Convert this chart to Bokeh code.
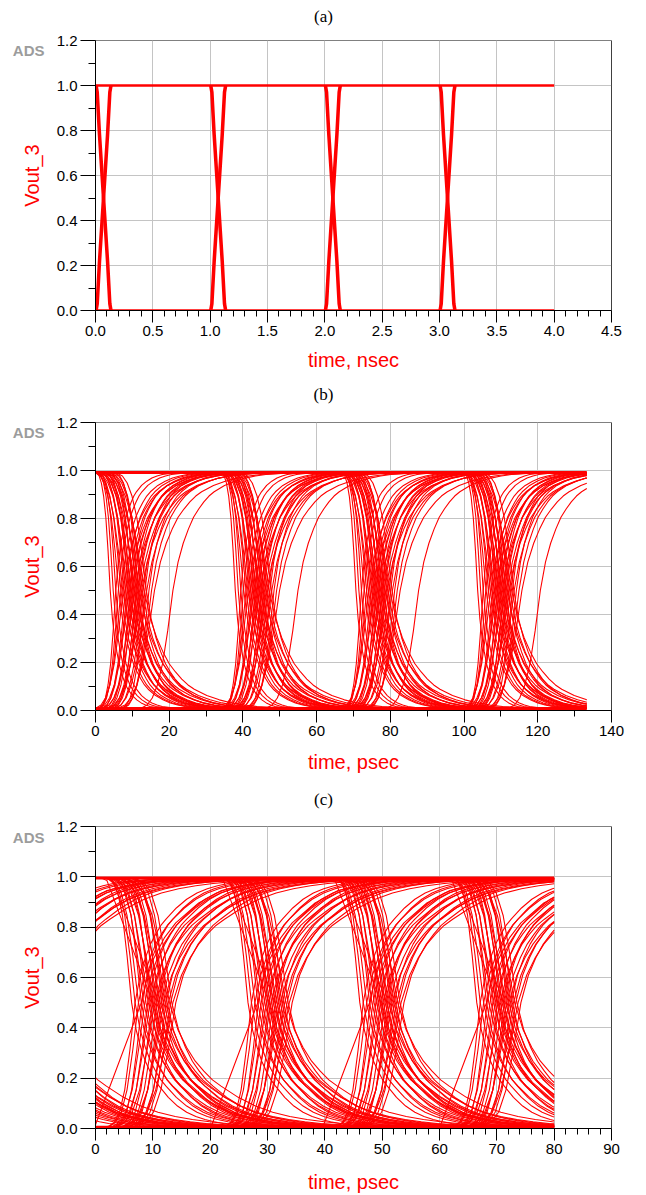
import numpy as np
from bokeh.plotting import figure
from bokeh.layouts import column
from bokeh.models import (FixedTicker, Span, Range1d, PrintfTickFormatter, LinearAxis,
                          CustomJSTickFormatter)
from bokeh.embed import file_html
from bokeh.resources import INLINE

RED = "#ff0000"

Y_TICKS = [0.0, 0.2, 0.4, 0.6, 0.8, 1.0, 1.2]
Y_MINOR = [0.1, 0.3, 0.5, 0.7, 0.9, 1.1]
LOGO_TEXT = "ADS"
LOGO_Y = 1.157

# ---------------- panel (a) data : time in ns ----------------
A_CAPTION = "(a)"
A_XTICKS = [0.0, 0.5, 1.0, 1.5, 2.0, 2.5, 3.0, 3.5, 4.0, 4.5]
A_EDGES = [0.0, 1.0, 2.0, 3.0]              # start of each transition
A_JITTER = [0.0, 0.01]                      # small spread of edge start
A_END = 4.0
A_TPL_T = [0.0, 0.01, 0.03, 0.065, 0.10, 0.12, 0.13]  # edge profile (ns after start)
A_TPL_V = [0.0, 0.03, 0.22, 0.5, 0.78, 0.97, 1.0]     # normalised level
A_RAILS = [0.0, 1.0]

# ---------------- panel (b) data : time in ps ----------------
B_CAPTION = "(b)"
B_XTICKS = [0, 20, 40, 60, 80, 100, 120, 140]
B_PERIOD = 33.33
B_NPER = 4
B_END = 133.3
B_PERIOD_SHIFT = [0.0, 0.6, 0.0, -0.3]
B_TPL_T = [-7, -6, -5, -4, -3, -2, -1, 0, 1, 2, 3, 4, 5, 6, 7, 8, 10, 12, 14, 16, 18, 21, 26]
B_TPL_V = [0.0, 0.004, 0.015, 0.045, 0.10, 0.19, 0.33, 0.5, 0.62, 0.70, 0.76, 0.81,
           0.845, 0.875, 0.90, 0.918, 0.945, 0.963, 0.976, 0.985, 0.991, 0.996, 1.0]
B_FALL_CROSS = [4.0, 4.8, 5.5, 6.3, 6.9, 7.4, 7.8, 8.2, 8.6, 8.9, 9.2, 9.5, 9.8, 10.1,
                10.4, 10.7, 11.0, 11.3, 11.6, 11.9, 12.3, 12.7, 13.2, 13.8]
B_FALL_SCALE = [0.6, 0.65, 0.7, 1.0, 1.0, 1.2, 1.0, 1.1, 1.3, 1.0, 1.2, 1.1, 1.4, 1.0,
                1.2, 1.5, 1.1, 1.3, 1.0, 1.6, 1.2, 1.4, 1.7, 1.3]
B_RISE_CROSS = [5.5, 6.2, 6.9, 7.5, 8.1, 8.6, 9.0, 9.4, 9.8, 10.2, 10.6, 11.0, 11.3,
                11.7, 12.1, 12.5, 12.9, 13.4, 13.9, 14.5, 15.2, 16.0, 21.0]
B_RISE_SCALE = [0.7, 0.8, 1.0, 1.2, 1.0, 1.1, 1.3, 1.0, 1.2, 1.1, 1.4, 1.0, 1.2, 1.1,
                1.3, 1.5, 1.2, 1.0, 1.4, 1.1, 1.3, 1.6, 1.4]
B_RAILS = [0.008, 0.992]

# ---------------- panel (c) data : time in ps ----------------
C_CAPTION = "(c)"
C_XTICKS = [0, 10, 20, 30, 40, 50, 60, 70, 80, 90]
C_PERIOD = 20.0
C_NPER = 5           # includes the period before t=0 (tails visible at start)
C_FIRST = -1
C_END = 80.0
C_PERIOD_SHIFT = [0.5, 0.5, 0.8, 0.3, 0.7, 0.5]
C_TPL_T = [-6, -5, -4, -3, -2, -1, 0, 1, 2, 3, 4, 5, 6, 8, 10, 12, 14, 16, 18, 20, 24, 28, 34]
C_TPL_V = [0.0, 0.005, 0.02, 0.06, 0.15, 0.31, 0.5, 0.61, 0.68, 0.735, 0.775, 0.81, 0.835,
           0.88, 0.915, 0.94, 0.957, 0.969, 0.978, 0.985, 0.993, 0.997, 1.0]
C_RAMP_T = [-9, -8, 0, 1, 2, 4, 6, 10, 14, 20, 28]
C_RAMP_V = [0.0, 0.01, 0.5, 0.6, 0.67, 0.76, 0.82, 0.9, 0.95, 0.98, 1.0]
C_FALL_CROSS = [5.8, 6.4, 7.0, 7.5, 7.9, 8.3, 8.7, 9.0, 9.3, 9.6, 9.9, 10.2, 10.5, 10.8,
                11.1, 11.4, 11.7, 12.0, 12.4, 12.8]
C_FALL_SCALE = [0.8, 0.9, 1.0, 0.9, 1.1, 1.0, 1.2, 0.9, 1.1, 1.3, 1.0, 1.2, 1.1, 1.4,
                1.0, 1.2, 1.3, 1.1, 1.5, 1.2]
C_RISE_CROSS = [6.4, 7.0, 7.6, 8.1, 8.6, 9.0, 9.4, 9.8, 10.2, 10.6, 11.0, 11.4, 11.8,
                12.2, 12.6, 13.0, 13.5]
C_RISE_SCALE = [0.9, 1.0, 0.9, 1.1, 1.0, 1.2, 1.0, 1.3, 1.1, 1.0, 1.2, 1.4, 1.1, 1.3,
                1.2, 1.5, 1.3]
C_RAMP_FALL_CROSS = [9.5, 10.5]
C_RAMP_RISE_CROSS = [7.5]
C_RAILS = [0.005, 0.995]

FRAME_LEFT, FRAME_RIGHT, PAGE_CENTER = 95, 611, 323


def clip(x, y, x0, x1):
    x = np.asarray(x, float)
    y = np.asarray(y, float)
    if x[-1] <= x0 or x[0] >= x1:
        return None
    a = max(x0, x[0])
    b = min(x1, x[-1])
    inner = (x > a) & (x < b)
    xs = [a] + list(x[inner]) + [b]
    ys = [float(np.interp(a, x, y))] + list(y[inner]) + [float(np.interp(b, x, y))]
    return xs, ys


def edge(t_cross, scale, tpl_t, tpl_v, rising, lo, hi, x0, x1):
    x = t_cross + np.asarray(tpl_t, float) * scale
    v = np.asarray(tpl_v, float)
    if not rising:
        v = 1.0 - v
    y = lo + (hi - lo) * v
    return clip(x, y, x0, x1)


def style(p, caption, cap_standoff, xticks, n_minor, x_fmt, x_label, xlab_standoff):
    p.title.visible = False
    step = xticks[1] - xticks[0]
    minor = [xticks[0] + step * i / n_minor for i in range(1, n_minor * (len(xticks) - 1))
             if i % n_minor]
    xt = FixedTicker(ticks=xticks, minor_ticks=minor)
    yt = FixedTicker(ticks=Y_TICKS, minor_ticks=Y_MINOR)
    p.xaxis.ticker = xt
    p.yaxis.ticker = yt
    p.xgrid.ticker = xt
    p.ygrid.ticker = yt
    p.xaxis.formatter = PrintfTickFormatter(format=x_fmt)
    p.yaxis.formatter = PrintfTickFormatter(format="%.1f")
    for ax in (p.xaxis[0], p.yaxis[0]):
        ax.axis_line_color = "black"
        ax.axis_line_width = 1
        ax.major_tick_line_color = "black"
        ax.minor_tick_line_color = "black"
        ax.major_tick_in = 0
        ax.minor_tick_in = 0
        ax.major_label_text_font = "Liberation Sans"
        ax.major_label_text_font_size = "15px"
        ax.major_label_text_color = "black"
        ax.axis_label_text_font = "Liberation Sans"
        ax.axis_label_text_font_size = "20px"
        ax.axis_label_text_font_style = "normal"
        ax.axis_label_text_color = RED
    p.xaxis.major_tick_out = 12
    p.xaxis.minor_tick_out = 6
    p.yaxis.major_tick_out = 15
    p.yaxis.minor_tick_out = 7
    p.xaxis.major_label_standoff = 3
    p.yaxis.major_label_standoff = 3
    p.xaxis.axis_label = x_label
    p.yaxis.axis_label = "Vout_3"
    p.xaxis.axis_label_standoff = xlab_standoff
    p.yaxis.axis_label_standoff = 11
    p.grid.grid_line_color = "#c4c4c4"
    p.grid.grid_line_width = 1
    p.outline_line_color = "#808080"
    p.background_fill_color = "white"
    p.border_fill_color = "white"
    p.add_layout(Span(location=xticks[-1], dimension="height", line_color="black", line_width=1))
    # "ADS" logo: an outer, line-less axis carrying one label
    logo = LinearAxis(ticker=FixedTicker(ticks=[LOGO_Y], minor_ticks=[]),
                      formatter=CustomJSTickFormatter(code="return '%s';" % LOGO_TEXT),
                      axis_line_color=None, major_tick_line_color=None,
                      minor_tick_line_color=None, major_tick_out=0, major_tick_in=0,
                      major_label_standoff=-27,
                      major_label_text_font="Liberation Sans",
                      major_label_text_font_style="bold",
                      major_label_text_font_size="15px",
                      major_label_text_color="#9c9c9c")
    p.add_layout(logo, "left")
    # caption "(a)/(b)/(c)": a line-less axis above, centred on the page
    cap_x = xticks[-1] * (PAGE_CENTER - FRAME_LEFT) / (FRAME_RIGHT - FRAME_LEFT)
    cap = LinearAxis(ticker=FixedTicker(ticks=[cap_x], minor_ticks=[]),
                     formatter=CustomJSTickFormatter(code="return '%s';" % caption),
                     axis_line_color=None, major_tick_line_color=None,
                     minor_tick_line_color=None, major_tick_out=0, major_tick_in=0,
                     major_label_standoff=cap_standoff,
                     major_label_text_font="Liberation Serif",
                     major_label_text_font_size="17px",
                     major_label_text_color="black")
    p.add_layout(cap, "above")


def new_fig(x_end, top, bottom, height):
    return figure(width=640, height=height, x_range=Range1d(0, x_end), y_range=Range1d(0, 1.2),
                  output_backend="svg", toolbar_location=None,
                  min_border_left=FRAME_LEFT, min_border_right=640 - FRAME_RIGHT,
                  min_border_top=top, min_border_bottom=bottom)


# ---------------- (a) ----------------
pa = new_fig(A_XTICKS[-1], 40, 70, 380)
style(pa, A_CAPTION, 15, A_XTICKS, 5, "%.1f", "time, nsec", 10)
xs, ys = [], []
for k in A_EDGES:
    for j in A_JITTER:
        for rising in (True, False):
            r = edge(k + j, 1.0, A_TPL_T, A_TPL_V, rising, 0.0, 1.0, 0.0, A_END)
            if r:
                xs.append(r[0]); ys.append(r[1])
pa.multi_line(xs, ys, line_color=RED, line_width=2.4)
for lvl in A_RAILS:
    pa.line([0.0, A_END], [lvl, lvl], line_color=RED, line_width=2.4)

# ---------------- (b) ----------------
pb = new_fig(B_XTICKS[-1], 42, 74, 404)
style(pb, B_CAPTION, 19, B_XTICKS, 2, "%d", "time, psec", 12)
xs, ys = [], []
for k in range(B_NPER):
    base = k * B_PERIOD + B_PERIOD_SHIFT[k]
    for c, s in zip(B_FALL_CROSS, B_FALL_SCALE):
        r = edge(base + c, s, B_TPL_T, B_TPL_V, False, B_RAILS[0], B_RAILS[1], 0.0, B_END)
        if r:
            xs.append(r[0]); ys.append(r[1])
    for c, s in zip(B_RISE_CROSS, B_RISE_SCALE):
        r = edge(base + c, s, B_TPL_T, B_TPL_V, True, B_RAILS[0], B_RAILS[1], 0.0, B_END)
        if r:
            xs.append(r[0]); ys.append(r[1])
pb.multi_line(xs, ys, line_color=RED, line_width=1.1)
for lvl in B_RAILS:
    pb.line([0.0, B_END], [lvl, lvl], line_color=RED, line_width=3)

# ---------------- (c) ----------------
pc = new_fig(C_XTICKS[-1], 42, 66, 411)
style(pc, C_CAPTION, 18, C_XTICKS, 5, "%d", "time, psec", 14)
xs, ys = [], []
for i in range(C_NPER):
    k = C_FIRST + i
    base = k * C_PERIOD + C_PERIOD_SHIFT[i]
    for c, s in zip(C_FALL_CROSS, C_FALL_SCALE):
        r = edge(base + c, s, C_TPL_T, C_TPL_V, False, C_RAILS[0], C_RAILS[1], 0.0, C_END)
        if r:
            xs.append(r[0]); ys.append(r[1])
    for c, s in zip(C_RISE_CROSS, C_RISE_SCALE):
        r = edge(base + c, s, C_TPL_T, C_TPL_V, True, C_RAILS[0], C_RAILS[1], 0.0, C_END)
        if r:
            xs.append(r[0]); ys.append(r[1])
    for c in C_RAMP_FALL_CROSS:
        r = edge(base + c, 1.0, C_RAMP_T, C_RAMP_V, False, C_RAILS[0], C_RAILS[1], 0.0, C_END)
        if r:
            xs.append(r[0]); ys.append(r[1])
    for c in C_RAMP_RISE_CROSS:
        r = edge(base + c, 1.0, C_RAMP_T, C_RAMP_V, True, C_RAILS[0], C_RAILS[1], 0.0, C_END)
        if r:
            xs.append(r[0]); ys.append(r[1])
pc.multi_line(xs, ys, line_color=RED, line_width=1.1)
for lvl in C_RAILS:
    pc.line([0.0, C_END], [lvl, lvl], line_color=RED, line_width=3)

layout = column(pa, pb, pc)
open("out.html", "w").write(file_html(layout, INLINE))
